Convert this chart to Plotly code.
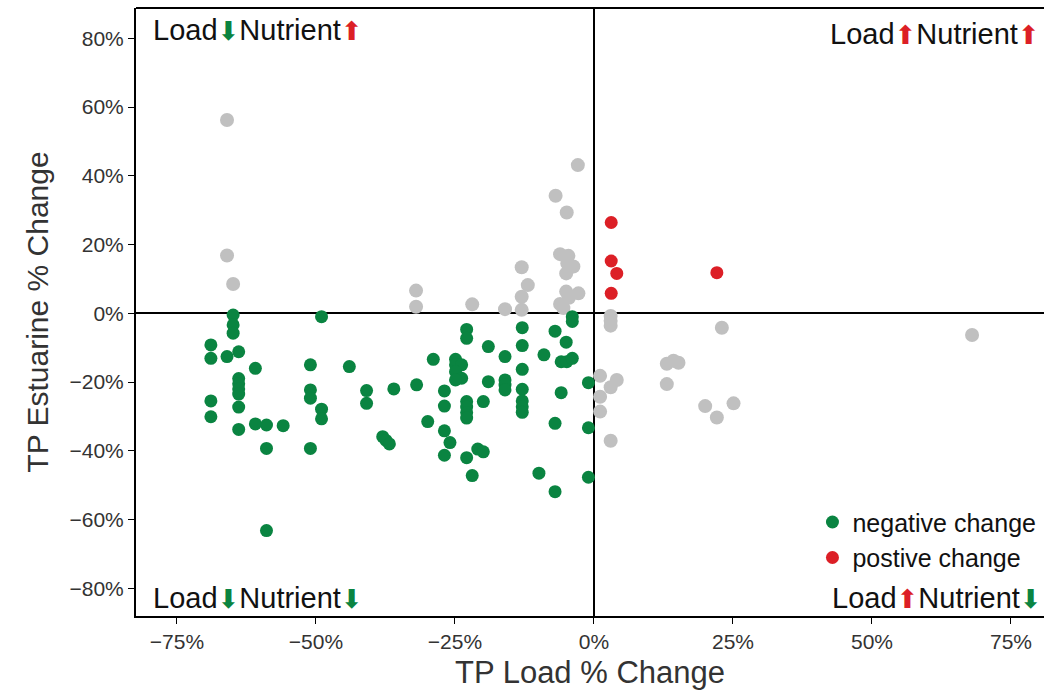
import plotly.graph_objects as go

# ---- data (percent change) ----
gray_x = [-66.0, -66.0, -64.9, -32.0, -32.0, -21.9, -16.0, -13.0, -11.9, -13.0, -13.0,
          -2.9, -6.9, -4.9, -6.1, -4.6, -3.7, -5.0, -4.8, -5.0, -4.5, -2.8, -6.1, -5.5,
          3.0, 3.0, 3.0, 23.0, 13.1, 14.3, 15.2, 13.1, 1.1, 4.1, 3.0, 1.1, 1.1, 3.0,
          20.0, 22.1, 25.1, 68.0]
gray_y = [56.2, 16.8, 8.5, 6.6, 1.9, 2.6, 1.2, 13.4, 8.2, 4.8, 1.0,
          43.1, 34.2, 29.3, 17.2, 16.7, 13.6, 11.6, 14.5, 6.3, 4.5, 5.8, 2.7, 1.5,
          -0.8, -2.2, -3.6, -4.2, -14.7, -13.8, -14.4, -20.6, -18.2, -19.4, -21.5, -24.3, -28.6, -37.1,
          -27.0, -30.3, -26.2, -6.3]

neg_x = [-68.9, -68.9, -68.9, -68.9, -66.0, -64.9, -64.9, -64.9,
         -63.9, -63.9, -63.9, -63.9, -63.9, -63.9, -63.9,
         -60.9, -60.9, -58.9, -58.9, -58.9, -55.9,
         -51.0, -51.0, -51.0, -51.0, -49.0, -49.0, -49.0, -44.0, -40.9, -40.9,
         -38.0, -37.4, -36.8, -36.0, -31.9, -29.9, -28.9,
         -26.9, -26.9, -26.9, -26.9, -25.9,
         -24.9, -24.9, -23.8, -24.9, -23.8, -24.9,
         -22.9, -22.9, -22.9, -22.9, -22.9, -22.9, -22.9, -21.9,
         -20.9, -19.9, -19.9, -19.0, -19.0,
         -16.0, -16.0, -16.0, -16.0,
         -12.9, -12.9, -12.9, -12.9, -12.9, -12.9, -12.9,
         -9.0, -9.9, -7.0, -7.0, -7.0, -5.9, -5.9, -5.0, -4.9,
         -3.9, -3.9, -3.9, -1.0, -1.0, -1.0]
neg_y = [-9.2, -13.1, -25.5, -30.1, -12.6, -0.5, -3.4, -5.8,
         -11.2, -19.0, -20.5, -22.0, -23.5, -27.3, -33.8,
         -16.0, -32.2, -32.5, -39.3, -63.2, -32.7,
         -15.0, -22.3, -24.7, -39.3, -1.0, -27.9, -30.7, -15.5, -22.5, -26.2,
         -35.9, -37.0, -38.0, -22.0, -20.8, -31.5, -13.4,
         -22.6, -27.0, -34.2, -41.3, -37.6,
         -13.4, -15.0, -15.0, -17.0, -18.9, -19.4,
         -4.7, -7.3, -25.7, -27.3, -28.9, -30.5, -42.0, -47.2,
         -39.5, -40.3, -25.7, -9.7, -19.9,
         -12.6, -19.4, -20.9, -22.3,
         -4.2, -9.4, -16.3, -22.1, -25.5, -27.2, -28.8,
         -12.1, -46.5, -5.2, -32.0, -51.9, -14.1, -23.1, -8.4, -14.1,
         -13.1, -1.0, -2.4, -20.2, -33.3, -47.7]

pos_x = [3.1, 3.1, 4.1, 3.1, 22.1]
pos_y = [26.4, 15.2, 11.6, 5.8, 11.8]

x_ticks = [-75, -50, -25, 0, 25, 50, 75]
y_ticks = [-80, -60, -40, -20, 0, 20, 40, 60, 80]


def pct(v):
    return ("\u2212" if v < 0 else "") + f"{abs(v)}%"


x_ticktext = [pct(v) for v in x_ticks]
y_ticktext = [pct(v) for v in y_ticks]

GREEN = "#0a8441"
RED = "#dc1f26"
GRAY = "#c0c0c0"
FONT = "Liberation Sans, Arial, sans-serif"

fig = go.Figure()
fig.add_trace(go.Scatter(x=gray_x, y=gray_y, mode="markers", showlegend=False,
                         marker=dict(color=GRAY, size=14, line=dict(width=0))))
fig.add_trace(go.Scatter(x=neg_x, y=neg_y, mode="markers", name="negative change",
                         marker=dict(color=GREEN, size=13, line=dict(width=0))))
fig.add_trace(go.Scatter(x=pos_x, y=pos_y, mode="markers", name="postive change",
                         marker=dict(color=RED, size=13, line=dict(width=0))))

ARW = "font-family:DejaVu Sans;font-size:26px"
up_r = f"<span style='color:{RED};{ARW}'>\u2B06</span>"
dn_g = f"<span style='color:{GREEN};{ARW}'>\u2B07</span>"
ann_font = dict(family=FONT, size=29, color="#111")
annos = [
    dict(text=f"Load{dn_g}Nutrient{up_r}", x=0.017, y=0.964, xanchor="left"),
    dict(text=f"Load{up_r}Nutrient{up_r}", x=0.998, y=0.958, xanchor="right"),
    dict(text=f"Load{dn_g}Nutrient{dn_g}", x=0.017, y=0.030, xanchor="left"),
    dict(text=f"Load{up_r}Nutrient{dn_g}", x=1.0, y=0.030, xanchor="right"),
]
for a in annos:
    fig.add_annotation(xref="paper", yref="paper", yanchor="middle", showarrow=False,
                       font=ann_font, **a)

# top border line (no right border: the frame is cut at the image edge)
fig.add_shape(type="line", xref="paper", yref="paper", x0=0, x1=1, y0=1, y1=1,
              line=dict(color="black", width=2))

fig.update_layout(
    width=1044, height=693,
    margin=dict(l=136, r=0, t=8, b=77),
    paper_bgcolor="white", plot_bgcolor="white",
    font=dict(family=FONT, color="#333"),
    legend=dict(x=0.745, y=0.192, xanchor="left", yanchor="top",
                font=dict(family=FONT, size=25, color="#111"),
                bgcolor="rgba(0,0,0,0)", itemwidth=30, tracegroupgap=0),
)
fig.update_xaxes(range=[-82.37, 80.94], tickvals=x_ticks, ticktext=x_ticktext,
                 showgrid=False, zeroline=True, zerolinecolor="black", zerolinewidth=1.5,
                 showline=True, linecolor="black", linewidth=2,
                 ticks="outside", ticklen=6, tickcolor="black", tickwidth=1,
                 tickfont=dict(size=21, color="#333"),
                 title=dict(text="TP Load % Change", font=dict(size=31, color="#333"), standoff=9))
fig.update_yaxes(range=[-88.06, 88.8], tickvals=y_ticks, ticktext=y_ticktext,
                 showgrid=False, zeroline=True, zerolinecolor="black", zerolinewidth=1.5,
                 showline=True, linecolor="black", linewidth=2,
                 ticks="outside", ticklen=6, tickcolor="black", tickwidth=1,
                 tickfont=dict(size=21, color="#333"),
                 title=dict(text="TP Estuarine % Change", font=dict(size=30, color="#333"), standoff=12))

fig.write_html("out.html")
